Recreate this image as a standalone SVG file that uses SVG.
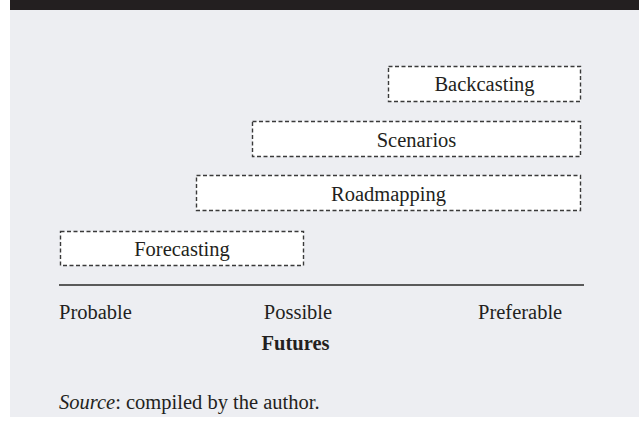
<svg xmlns="http://www.w3.org/2000/svg" width="639" height="427" viewBox="0 0 639 427">
<style>
.box{fill:#ffffff;stroke:#3a3a3a;stroke-width:1.4;stroke-dasharray:4 2.5}
.t{font-family:"Liberation Serif","Times New Roman",serif;font-size:20.5px;fill:#231f20}
.c{text-anchor:middle}
</style>
<rect x="0" y="0" width="639" height="427" fill="#ffffff"/>
<rect x="10" y="0" width="629" height="417" fill="#edeef2"/>
<rect x="10" y="0" width="629" height="10" fill="#231f20"/>
<g id="backcasting">
<rect class="box" x="388.5" y="66.5" width="192" height="35"/>
<text class="t c" x="484.5" y="91">Backcasting</text>
</g>
<g id="scenarios">
<rect class="box" x="252.5" y="121.5" width="328" height="35"/>
<text class="t c" x="416.5" y="147">Scenarios</text>
</g>
<g id="roadmapping">
<rect class="box" x="196.5" y="175.5" width="384" height="35"/>
<text class="t c" x="388.5" y="201">Roadmapping</text>
</g>
<g id="forecasting">
<rect class="box" x="60.5" y="231.5" width="243" height="34"/>
<text class="t c" x="182" y="256">Forecasting</text>
</g>
<g id="connectors">
<line x1="59" y1="285" x2="584" y2="285" stroke="#5a5a5a" stroke-width="2"/>
</g>
<g id="axis-labels">
<text class="t" x="59" y="319">Probable</text>
<text class="t c" x="298" y="319">Possible</text>
<text class="t" x="478" y="319">Preferable</text>
<text class="t c" x="295.5" y="350" font-weight="bold">Futures</text>
</g>
<text class="t" x="59" y="409"><tspan font-style="italic">Source</tspan>: compiled by the author.</text>
</svg>
